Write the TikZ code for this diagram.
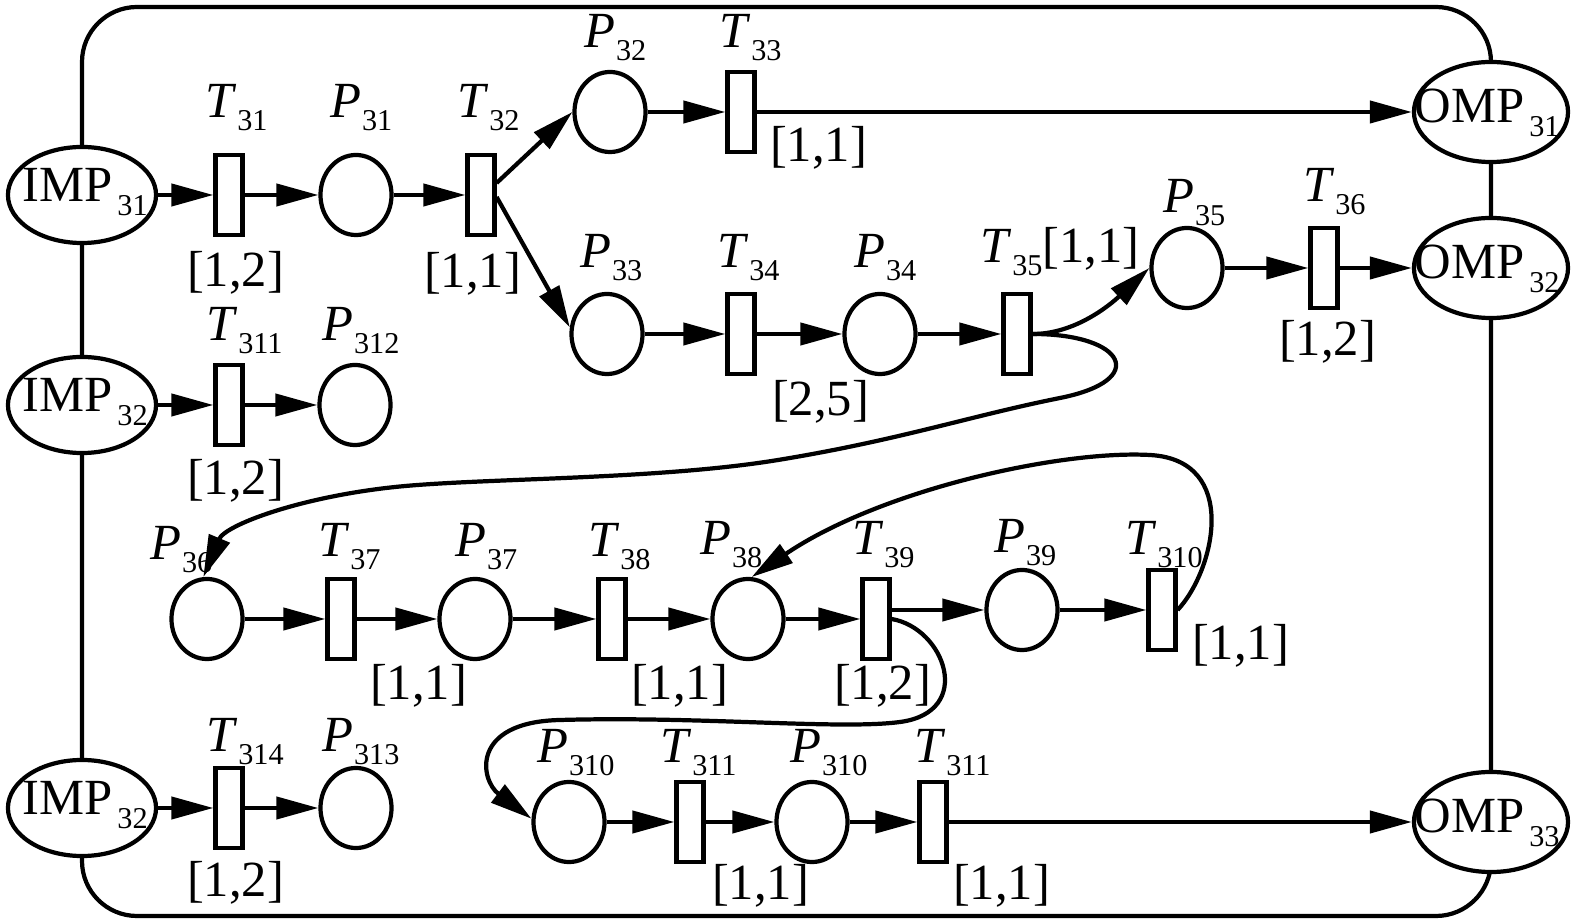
\documentclass[tikz,border=0pt]{standalone}
\usepackage{fontspec}
\setmainfont{Liberation Serif}
\usetikzlibrary{arrows.meta,shapes.geometric,calc}
\newcommand\tlab[2]{\textit{#1}\kern0.02em\raisebox{-0.24em}{\fontsize{8.6}{9}\selectfont #2}}
\newcommand\plab[2]{#1\kern0.1em\raisebox{-0.26em}{\fontsize{8.6}{9}\selectfont #2}}
\begin{document}
\begin{tikzpicture}[x=0.01cm,y=-0.01cm,line width=1.2pt,
  font=\fontsize{14.4}{17}\selectfont,
  transnode/.style={draw,fill=white,rectangle,minimum width=0.27cm,minimum height=0.80cm,inner sep=0pt},
  placenode/.style={draw,fill=white,ellipse,minimum width=0.71cm,minimum height=0.80cm,inner sep=0pt},
  portnode/.style={draw,fill=white,ellipse,minimum width=1.48cm,minimum height=0.96cm,inner sep=0pt},
  outnode/.style={portnode,minimum width=1.54cm,minimum height=1.0cm},
  lab/.style={anchor=base west,inner sep=0pt},
  plabel/.style={anchor=base,inner sep=0pt},
  flow/.style={-{Triangle[length=0.42cm,width=0.22cm]}}]
\useasboundingbox (0,0) rectangle (1575,922);
% frame
\draw[rounded corners=0.55cm] (82,7) rectangle (1491,916);
% ports
\node[portnode] (IMP31) at (82,195) {};
\node[portnode] (IMP32a) at (82,405) {};
\node[portnode] (IMP32b) at (82,808) {};
\node[outnode] (OMP31) at (1491,112) {};
\node[outnode] (OMP32) at (1491,268) {};
\node[outnode] (OMP33) at (1491,822) {};
\node[plabel] (tIMP31) at (85,202) {\plab{IMP}{31}};
\node[plabel] (tIMP32a) at (85,412) {\plab{IMP}{32}};
\node[plabel] (tIMP32b) at (85,815) {\plab{IMP}{32}};
\node[plabel] (tOMP31) at (1487,123) {\plab{OMP}{31}};
\node[plabel] (tOMP32) at (1487,279) {\plab{OMP}{32}};
\node[plabel] (tOMP33) at (1487,833) {\plab{OMP}{33}};
% transitions
\node[transnode] (T31) at (229,195) {};
\node[transnode] (T32) at (481,195) {};
\node[transnode] (T33) at (741,112) {};
\node[transnode] (T34) at (741,334) {};
\node[transnode] (T35) at (1017,334) {};
\node[transnode] (T36) at (1324,268) {};
\node[transnode] (T311a) at (229,405) {};
\node[transnode] (T314) at (229,808) {};
\node[transnode] (T37) at (341,619) {};
\node[transnode] (T38) at (612,619) {};
\node[transnode] (T39) at (876,619) {};
\node[transnode] (T310) at (1162,610) {};
\node[transnode] (T311b) at (690,822) {};
\node[transnode] (T311c) at (933,822) {};
% places
\node[placenode] (P31) at (356,195) {};
\node[placenode] (P32) at (610,112) {};
\node[placenode] (P33) at (607,334) {};
\node[placenode] (P34) at (880,334) {};
\node[placenode] (P35) at (1187,268) {};
\node[placenode] (P312) at (355,405) {};
\node[placenode] (P313) at (356,808) {};
\node[placenode] (P36) at (207,619) {};
\node[placenode] (P37) at (475,619) {};
\node[placenode] (P38) at (748,619) {};
\node[placenode] (P39) at (1022,610) {};
\node[placenode] (P310a) at (569,822) {};
\node[placenode] (P310b) at (812,822) {};
% name labels
\node[lab] (lT31) at (203,118) {\tlab{T}{31}};
\node[lab] (lP31) at (328,118) {\tlab{P}{31}};
\node[lab] (lT32) at (455,118) {\tlab{T}{32}};
\node[lab] (lP32) at (582,48) {\tlab{P}{32}};
\node[lab] (lT33) at (717,48) {\tlab{T}{33}};
\node[lab] (lP33) at (578,268) {\tlab{P}{33}};
\node[lab] (lT34) at (715,268) {\tlab{T}{34}};
\node[lab] (lP34) at (852,268) {\tlab{P}{34}};
\node[lab] (lT35) at (978,263) {\tlab{T}{35}[1,1]};
\node[lab] (lP35) at (1161,213) {\tlab{P}{35}};
\node[lab] (lT36) at (1301,202) {\tlab{T}{36}};
\node[lab] (lT311a) at (204,341) {\tlab{T}{311}};
\node[lab] (lP312) at (320,341) {\tlab{P}{312}};
\node[lab] (lT314) at (204,752) {\tlab{T}{314}};
\node[lab] (lP313) at (320,752) {\tlab{P}{313}};
\node[lab] (lP36) at (148,560) {\tlab{P}{36}};
\node[lab] (lT37) at (316,557) {\tlab{T}{37}};
\node[lab] (lP37) at (453,557) {\tlab{P}{37}};
\node[lab] (lT38) at (586,557) {\tlab{T}{38}};
\node[lab] (lP38) at (698,555) {\tlab{P}{38}};
\node[lab] (lT39) at (850,555) {\tlab{T}{39}};
\node[lab] (lP39) at (992,553) {\tlab{P}{39}};
\node[lab] (lT310) at (1123,555) {\tlab{T}{310}};
\node[lab] (lP310a) at (535,763) {\tlab{P}{310}};
\node[lab] (lT311b) at (658,763) {\tlab{T}{311}};
\node[lab] (lP310b) at (788,763) {\tlab{P}{310}};
\node[lab] (lT311c) at (912,763) {\tlab{T}{311}};
% interval labels
\node[lab] (iT31) at (185,287) {[1,2]};
\node[lab] (iT32) at (422,288) {[1,1]};
\node[lab] (iT33) at (768,162) {[1,1]};
\node[lab] (iT34) at (770,416) {[2,5]};
\node[lab] (iT36) at (1277,356) {[1,2]};
\node[lab] (iT311a) at (185,495) {[1,2]};
\node[lab] (iT314) at (185,897) {[1,2]};
\node[lab] (iT37) at (368,700) {[1,1]};
\node[lab] (iT38) at (629,700) {[1,1]};
\node[lab] (iT39) at (832,700) {[1,2]};
\node[lab] (iT310) at (1190,660) {[1,1]};
\node[lab] (iT311b) at (710,900) {[1,1]};
\node[lab] (iT311c) at (951,900) {[1,1]};
% straight arcs
\draw[flow] (IMP31) -- (T31);
\draw[flow] (T31) -- (P31);
\draw[flow] (P31) -- (T32);
\draw[flow] ([yshift=0.12cm]T32.east) -- (P32.west);
\draw[flow] ([yshift=-0.02cm]T32.east) -- (P33.170);
\draw[flow] (P32) -- (T33);
\draw[flow] (T33) -- (OMP31);
\draw[flow] (P33) -- (T34);
\draw[flow] (T34) -- (P34);
\draw[flow] (P34) -- (T35);
\draw[flow] (P35) -- (T36);
\draw[flow] (T36) -- (OMP32);
\draw[flow] (IMP32a) -- (T311a);
\draw[flow] (T311a) -- (P312);
\draw[flow] (IMP32b) -- (T314);
\draw[flow] (T314) -- (P313);
\draw[flow] (P36) -- (T37);
\draw[flow] (T37) -- (P37);
\draw[flow] (P37) -- (T38);
\draw[flow] (T38) -- (P38);
\draw[flow] (P38) -- (T39);
\draw[flow] (T39.east |- P39.west) -- (P39.west);
\draw[flow] (P39) -- (T310);
\draw[flow] (P310a) -- (T311b);
\draw[flow] (T311b) -- (P310b);
\draw[flow] (P310b) -- (T311c);
\draw[flow] (T311c) -- (OMP33);
% curved arcs
\draw[flow] (T35.east) .. controls (1075,334) and (1110,305) .. (P35.west);
\draw[flow] (T35.east) .. controls (1125,334) and (1150,380) .. (1060,398)
  .. controls (970,416) and (900,440) .. (778,460)
  .. controls (656,480) and (480,478) .. (395,487)
  .. controls (300,497) and (225,525) .. (P36.95);
\draw[flow] (T310.east) .. controls (1215,570) and (1240,460) .. (1150,455)
  .. controls (1060,450) and (880,490) .. (P38.85);
\draw[flow] (T39.east) .. controls (945,628) and (975,712) .. (900,722)
  .. controls (840,730) and (700,716) .. (560,720)
  .. controls (470,722) and (480,780) .. (P310a.175);
\end{tikzpicture}
\end{document}
